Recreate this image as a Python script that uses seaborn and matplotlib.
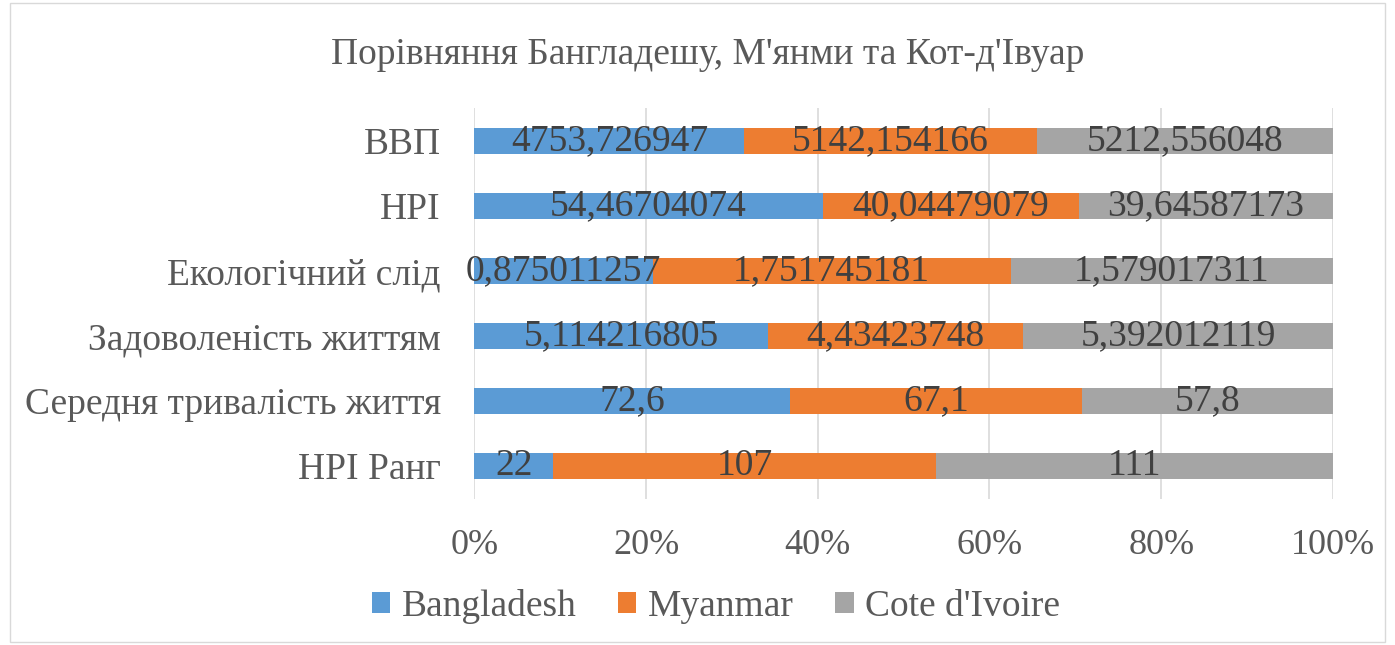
import numpy as np
import pandas as pd
import matplotlib.pyplot as plt
import seaborn as sns
from matplotlib.patches import Rectangle, Patch

categories = ['ВВП', 'HPI', 'Екологічний слід', 'Задоволеність життям',
              'Середня тривалість життя', 'HPI Ранг']
bangladesh = [4753.726947, 54.46704074, 0.875011257, 5.114216805, 72.6, 22]
myanmar = [5142.154166, 40.04479079, 1.751745181, 4.43423748, 67.1, 107]
cote = [5212.556048, 39.64587173, 1.579017311, 5.392012119, 57.8, 111]
series_names = ['Bangladesh', 'Myanmar', "Cote d'Ivoire"]
tick_labels = ['0%', '20%', '40%', '60%', '80%', '100%']

colors = ['#5B9BD5', '#ED7D31', '#A5A5A5']
FONT = 'Liberation Serif'


def build_frame():
    data = pd.DataFrame({
        'category': categories,
        'Bangladesh': bangladesh,
        'Myanmar': myanmar,
        "Cote d'Ivoire": cote,
    })
    total = data[series_names].sum(axis=1)
    pct = data[series_names].div(total, axis=0) * 100
    cum = pct.cumsum(axis=1)
    return data, pct, cum


def draw(data, pct, cum):
    sns.set_style('white')
    plt.rcParams['font.family'] = [FONT, 'DejaVu Serif']

    fig = plt.figure(figsize=(13.95, 6.45), dpi=100)
    ax = fig.add_axes([0.340, 0.227, 0.6155, 0.605])

    # stacked bars: draw cumulative totals from the widest down
    for name, color in reversed(list(zip(series_names, colors))):
        sns.barplot(x=cum[name], y=data['category'], orient='h', color=color,
                    width=0.4, ax=ax, zorder=2, saturation=1, linewidth=0)

    # value labels in the middle of each segment
    for i in range(len(categories)):
        for name in series_names:
            left = cum[name].iloc[i] - pct[name].iloc[i]
            mid = left + pct[name].iloc[i] / 2
            txt = f"{data[name].iloc[i]:.10g}".replace('.', ',')
            ax.text(mid, i, txt, ha='center', va='center', fontsize=27,
                    color='#404040', zorder=3)

    ax.set_xlim(0, 100)
    ax.set_xticks(np.linspace(0, 100, 6))
    ax.set_xticklabels(tick_labels)
    ax.xaxis.grid(True, color='#D9D9D9', linewidth=1.2, zorder=0)
    ax.set_axisbelow(True)
    for s in ax.spines.values():
        s.set_visible(False)
    ax.tick_params(axis='x', length=0, pad=22, labelsize=26, labelcolor='#595959')
    ax.tick_params(axis='y', length=0, pad=24, labelsize=27, labelcolor='#595959')
    ax.set_xlabel('')
    ax.set_ylabel('')

    fig.text(0.507, 0.915, "Порівняння Бангладешу, М'янми та Кот-д'Івуар",
             ha='center', va='center', fontsize=27, color='#595959')

    handles = [Patch(facecolor=c, edgecolor='none') for c in colors]
    fig.legend(handles, series_names, loc='center', bbox_to_anchor=(0.513, 0.06),
               ncol=3, frameon=False, fontsize=27, labelcolor='#595959',
               handlelength=0.5, handleheight=0.5, handletextpad=0.3,
               columnspacing=1.1)

    fig.patches.append(Rectangle((0.007, 0.005), 0.986, 0.99, transform=fig.transFigure,
                                 fill=False, edgecolor='#D9D9D9', linewidth=1))

    fig.savefig('out.png', dpi=100)


def main():
    data, pct, cum = build_frame()
    draw(data, pct, cum)


if __name__ == '__main__':
    main()
